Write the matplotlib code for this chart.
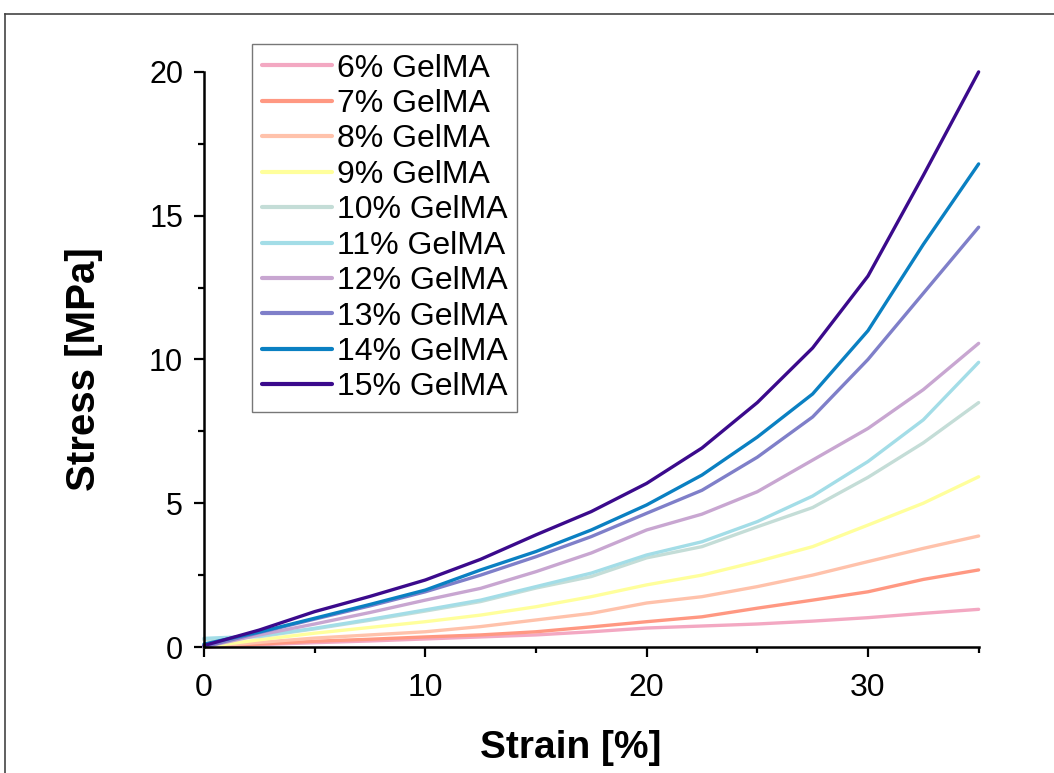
import matplotlib
matplotlib.use('Agg')
import matplotlib.pyplot as plt
from matplotlib.lines import Line2D

# Data (strain in %, stress in MPa)
strain = [0, 2.5, 5, 7.5, 10, 12.5, 15, 17.5, 20, 22.5, 25, 27.5, 30, 32.5, 35]

gel_6 = [0, 0.08, 0.15, 0.21, 0.28, 0.35, 0.42, 0.53, 0.66, 0.73, 0.80, 0.90, 1.02, 1.17, 1.31]
gel_7 = [0, 0.10, 0.20, 0.27, 0.35, 0.42, 0.53, 0.70, 0.88, 1.05, 1.35, 1.63, 1.92, 2.35, 2.68]
gel_8 = [0, 0.16, 0.31, 0.42, 0.53, 0.71, 0.94, 1.17, 1.53, 1.75, 2.10, 2.50, 2.97, 3.43, 3.86]
gel_9 = [0, 0.25, 0.48, 0.68, 0.88, 1.11, 1.40, 1.75, 2.16, 2.50, 2.97, 3.49, 4.24, 5.00, 5.92]
gel_10 = [0.25, 0.36, 0.63, 0.93, 1.25, 1.58, 2.05, 2.45, 3.10, 3.49, 4.18, 4.85, 5.90, 7.10, 8.50]
gel_11 = [0.30, 0.38, 0.65, 0.96, 1.29, 1.63, 2.10, 2.57, 3.20, 3.66, 4.36, 5.25, 6.45, 7.90, 9.90]
gel_12 = [0, 0.42, 0.80, 1.20, 1.63, 2.04, 2.62, 3.27, 4.07, 4.62, 5.40, 6.50, 7.60, 8.95, 10.56]
gel_13 = [0, 0.50, 0.97, 1.43, 1.92, 2.50, 3.14, 3.84, 4.65, 5.45, 6.60, 8.00, 10.0, 12.3, 14.6]
gel_14 = [0.10, 0.52, 1.00, 1.48, 1.98, 2.68, 3.32, 4.07, 4.94, 5.98, 7.30, 8.80, 11.0, 14.0, 16.8]
gel_15 = [0.05, 0.59, 1.23, 1.76, 2.33, 3.05, 3.90, 4.71, 5.69, 6.92, 8.50, 10.4, 12.9, 16.4, 20.0]

labels = ['6% GelMA', '7% GelMA', '8% GelMA', '9% GelMA', '10% GelMA',
          '11% GelMA', '12% GelMA', '13% GelMA', '14% GelMA', '15% GelMA']
series = [gel_6, gel_7, gel_8, gel_9, gel_10, gel_11, gel_12, gel_13, gel_14, gel_15]
colors = ['#f3a8c2', '#ff9882', '#ffc2ab', '#ffff9c', '#c4ddd7',
          '#a3dde7', '#c8a6d1', '#7f7fc9', '#0a80c2', '#3b0a8c']

font = ['Liberation Sans', 'DejaVu Sans']

fig = plt.figure(figsize=(10.54, 7.73), dpi=100)
ax = fig.add_axes([0.1935, 0.163, 0.735, 0.744])

for y, lab, c in zip(series, labels, colors):
    ax.plot(strain, y, color=c, lw=2.4, label=lab, clip_on=False,
            solid_capstyle='round', solid_joinstyle='round')

ax.set_xlim(0, 35)
ax.set_ylim(0, 20)
ax.set_xticks([0, 10, 20, 30])
ax.set_xticks([5, 15, 25, 35], minor=True)
ax.set_yticks([0, 5, 10, 15, 20])
ax.set_yticks([2.5, 7.5, 12.5, 17.5], minor=True)

for side in ['top', 'right']:
    ax.spines[side].set_visible(False)
for side in ['left', 'bottom']:
    ax.spines[side].set_linewidth(1.8)

ax.tick_params(which='major', direction='out', length=7, width=1.6)
ax.tick_params(which='minor', direction='out', length=4.5, width=1.6)
ax.tick_params(axis='x', pad=12)
ax.tick_params(axis='y', pad=8)

for t in ax.get_xticklabels():
    t.set_family(font)
    t.set_fontsize(23)
for t in ax.get_yticklabels():
    t.set_family(font)
    t.set_fontsize(22)

ax.set_xlabel('Strain [%]', family=font, fontsize=28, fontweight='bold')
ax.set_ylabel('Stress [MPa]', family=font, fontsize=29, fontweight='bold')
ax.xaxis.set_label_coords(0.474, -0.145)
ax.yaxis.set_label_coords(-0.130, 0.483)

leg = ax.legend(loc='upper left', bbox_to_anchor=(252 / 1054, 1 - 44 / 773),
                bbox_transform=fig.transFigure, borderaxespad=0,
                prop={'family': font, 'size': 23},
                handlelength=2.2, handletextpad=0.15, labelspacing=0.17,
                borderpad=0.3, fancybox=False, framealpha=1)
leg.get_frame().set_edgecolor('#777777')
leg.get_frame().set_linewidth(1.0)
for h in leg.get_lines():
    h.set_linewidth(3.0)

# outer frame (left and top edges visible)
fig.add_artist(Line2D([5 / 1054, 5 / 1054], [0, 1 - 14 / 773], color='#444444', lw=1.2))
fig.add_artist(Line2D([5 / 1054, 1], [1 - 14 / 773, 1 - 14 / 773], color='#444444', lw=1.2))

fig.savefig('out.png', dpi=100)
